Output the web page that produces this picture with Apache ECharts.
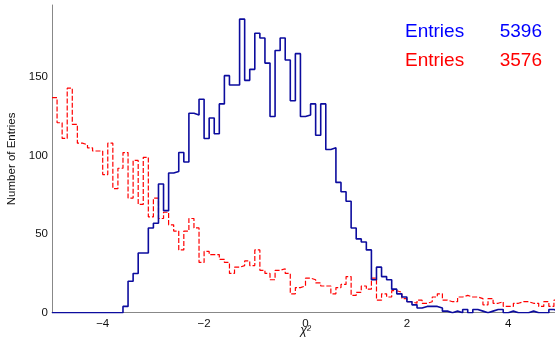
<!DOCTYPE html>
<html>
<head>
<meta charset="utf-8">
<script src="https://cdn.jsdelivr.net/npm/echarts@6/dist/echarts.min.js"></script>
<style>
html,body{margin:0;padding:0;background:#fff;}
#c{width:555px;height:340px;}
</style>
</head>
<body>
<div id="c"></div>
<script>
// Histogram: 100 bins of width 0.1 from -5 to 5
var binStart = -5, binWidth = 0.1, nBins = 100;
var blueCounts = [
 0,0,0,0,0,0,0,0,0,0,
 0,0,0,0,4,20,25,38,38,54,
 57,82,65,89,90,102,96,127,126,136,
 111,124,114,133,151,145,145,187,148,155,
 178,175,159,125,167,175,161,135,165,125,
 126,133,113,133,104,105,83,77,71,54,
 47,45,40,21,29,23,21,15,12,10,
 7,5,3,4,4,4,3,1,0,1,
 0,2,0,2,1,0,1,2,2,0,
 1,0,0,0,1,0,0,0,2,1
];
var redCounts = [
 137,121,111,143,120,108,107,105,103,103,
 88,108,79,92,102,73,97,69,99,61,
 73,60,64,56,52,40,52,60,54,32,
 39,37,37,34,32,25,29,30,33,30,
 40,27,25,21,27,28,25,12,16,17,
 22,21,19,17,17,12,16,18,23,11,
 13,17,15,22,8,12,10,14,13,9,
 7,6,8,6,7,10,12,8,7,7,
 10,11,10,10,9,5,9,6,7,4,
 4,6,7,7,6,6,4,7,4,8
];
var xTickLabels = [-4,-2,0,2,4];
var yTickLabels = [0,50,100,150];
var legendLabels = ['Entries','Entries'];
var legendValues = ['5396','3576'];
var xMin = -5, xMax = 5, yMax = 196;

function stepData(counts){
  var d = [];
  for (var i = 0; i < counts.length; i++) {
    d.push([Math.round((binStart + i*binWidth)*10)/10, counts[i]]);
  }
  d.push([Math.round((binStart + counts.length*binWidth)*10)/10, counts[counts.length-1]]);
  return d;
}
function fmtNum(v){ return v < 0 ? '\u2212' + Math.abs(v) : String(v); }

var chart = echarts.init(document.getElementById('c'), null, {renderer:'canvas'});
var font = 'Liberation Sans, Arial, Helvetica, sans-serif';
chart.setOption({
  animation:false,
  backgroundColor:'#ffffff',
  grid:{left:52, right:-4, top:5, bottom:27.3, containLabel:false, outerBoundsMode:'none'},
  xAxis:{
    type:'value', min:xMin, max:xMax, interval:1,
    axisLine:{show:true, onZero:false, lineStyle:{color:'#888888', width:1}},
    axisTick:{show:false},
    splitLine:{show:false},
    axisLabel:{
      show:true, margin:5, color:'#111', fontSize:11.5, fontFamily:font,
      showMinLabel:true, showMaxLabel:true, hideOverlap:false,
      formatter:function(v){ return xTickLabels.indexOf(Math.round(v))>=0 && Math.abs(v-Math.round(v))<1e-6 ? fmtNum(Math.round(v)) : ''; }
    },
    name:'\u03c7\u00b2', nameLocation:'middle', nameGap:12, nameMoveOverlap:false,
    nameTextStyle:{color:'#111', fontSize:12, fontFamily:font, fontStyle:'italic', verticalAlign:'top'}
  },
  yAxis:{
    type:'value', min:0, max:yMax, interval:50,
    axisLine:{show:true, onZero:false, lineStyle:{color:'#888888', width:1}},
    axisTick:{show:false},
    splitLine:{show:false},
    axisLabel:{
      show:true, margin:4, color:'#111', fontSize:11.5, fontFamily:font,
      formatter:function(v){ return yTickLabels.indexOf(v)>=0 ? String(v) : ''; }
    },
    name:'Number of Entries', nameLocation:'middle', nameGap:34, nameRotate:90, nameMoveOverlap:false,
    nameTextStyle:{color:'#111', fontSize:11.5, fontFamily:font}
  },
  series:[
    {
      type:'line', step:'end', data:stepData(redCounts), symbol:'none', z:2,
      lineStyle:{color:'#ff0000', width:1.2, type:[5,2]}
    },
    {
      type:'line', step:'end', data:stepData(blueCounts), symbol:'none', z:3,
      lineStyle:{color:'#0c0c9e', width:1.6}
    }
  ],
  graphic:[
    {type:'text', left:405, top:22, style:{text:legendLabels[0], fill:'#0000ff', font:'19px '+font}},
    {type:'text', right:13, top:22, style:{text:legendValues[0], fill:'#0000ff', font:'19px '+font}},
    {type:'text', left:405, top:51, style:{text:legendLabels[1], fill:'#ff0000', font:'19px '+font}},
    {type:'text', right:13, top:51, style:{text:legendValues[1], fill:'#ff0000', font:'19px '+font}}
  ]
});
</script>
</body>
</html>
